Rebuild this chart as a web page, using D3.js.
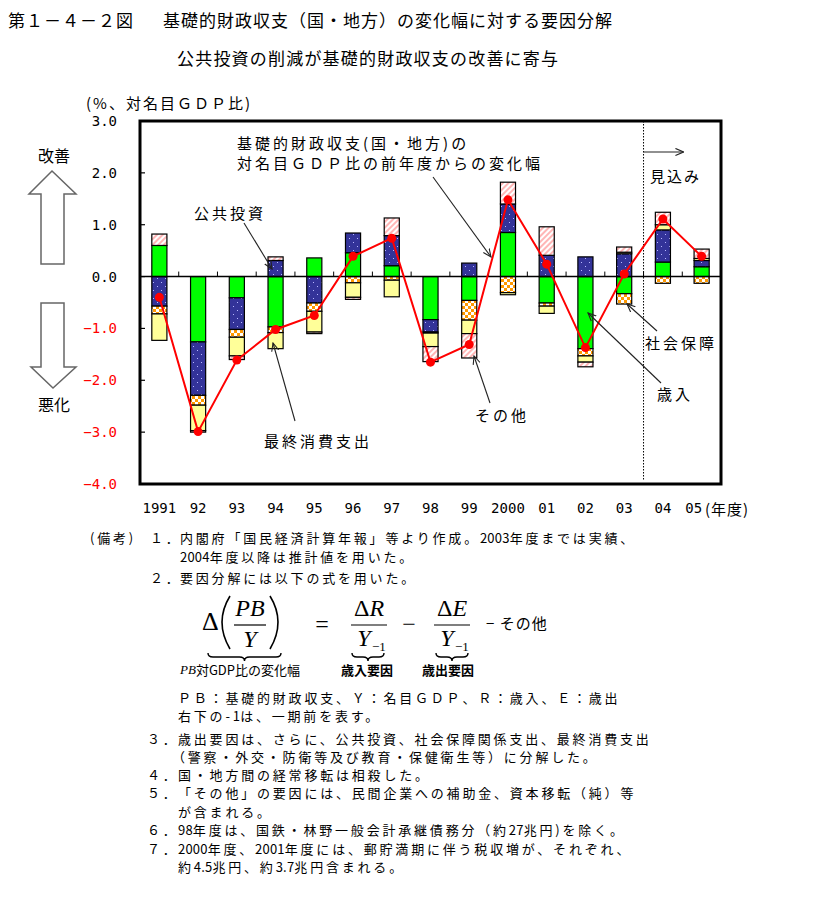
<!DOCTYPE html>
<html><head><meta charset="utf-8">
<script src="https://cdn.jsdelivr.net/npm/d3@7"></script>
<style>
body{margin:0;background:#fff}
svg{display:block}
text{font-family:"Noto Sans CJK JP","Noto Sans",sans-serif;fill:#000}
</style>
</head><body>
<svg id="c" width="814" height="916"></svg>
<script>
// ---- data ----
const years = ["1991","92","93","94","95","96","97","98","99","2000","01","02","03","04","05"];
const revenue     = [0.60,-1.26,-0.41,-0.97, 0.36, 0.46, 0.21,-0.83,-0.46, 0.85,-0.51,-1.39,-0.33, 0.28, 0.19];
const publicInv   = [-0.57,-1.03,-0.61, 0.31,-0.51, 0.38, 0.58,-0.24, 0.26, 0.55, 0.41, 0.38, 0.44, 0.62, 0.12];
const socialSec   = [-0.15,-0.19,-0.15,-0.11,-0.16,-0.12,-0.07,-0.02,-0.38,-0.31,-0.06,-0.14,-0.20,-0.13,-0.13];
const consumption = [-0.51,-0.49,-0.36,-0.31,-0.40,-0.28,-0.32,-0.26,-0.26,-0.04,-0.14,-0.12, 0.03, 0.10, 0.04];
const other       = [0.22,-0.03,-0.07, 0.07,-0.03,-0.04, 0.34,-0.29,-0.47, 0.42, 0.55,-0.09, 0.10, 0.24, 0.18];
const total       = [-0.40,-2.99,-1.61,-1.02,-0.75, 0.39, 0.74,-1.65,-1.31, 1.48, 0.24,-1.37, 0.05, 1.11, 0.39];
const yTicks = [3,2,1,0,-1,-2,-3,-4];
const seriesKeys = ["歳入","公共投資","社会保障","最終消費支出","その他"];
const seriesArrays = [revenue, publicInv, socialSec, consumption, other];
const forecastFrom = "04";

const svg = d3.select("#c");
const defs = svg.append("defs");

// patterns
const pDot = defs.append("pattern").attr("id","pDot").attr("patternUnits","userSpaceOnUse").attr("width",8).attr("height",8);
pDot.append("rect").attr("width",8).attr("height",8).attr("fill","#333399");
pDot.append("rect").attr("x",1).attr("y",2).attr("width",1).attr("height",1).attr("fill","#b8b8ff");
pDot.append("rect").attr("x",5).attr("y",6).attr("width",1).attr("height",1).attr("fill","#b8b8ff");
const pChk = defs.append("pattern").attr("id","pChk").attr("patternUnits","userSpaceOnUse").attr("width",6).attr("height",6);
pChk.append("rect").attr("width",6).attr("height",6).attr("fill","#fff");
pChk.append("rect").attr("width",3).attr("height",3).attr("fill","#ff9900");
pChk.append("rect").attr("x",3).attr("y",3).attr("width",3).attr("height",3).attr("fill","#ff9900");
const pHat = defs.append("pattern").attr("id","pHat").attr("patternUnits","userSpaceOnUse").attr("width",4).attr("height",4).attr("patternTransform","rotate(45)");
pHat.append("rect").attr("width",4).attr("height",4).attr("fill","#fff");
pHat.append("line").attr("x1",1).attr("y1",0).attr("x2",1).attr("y2",4).attr("stroke","#ff8f8f").attr("stroke-width",1.3);

const fills = {"歳入":"#00ff00","公共投資":"url(#pDot)","社会保障":"url(#pChk)","最終消費支出":"#ffff99","その他":"url(#pHat)"};

defs.append("marker").attr("id","arr").attr("viewBox","0 0 10 10").attr("refX",9).attr("refY",5)
  .attr("markerWidth",9).attr("markerHeight",9).attr("markerUnits","userSpaceOnUse").attr("orient","auto")
  .append("path").attr("d","M0,1 L9,5 L0,9").attr("fill","none").attr("stroke","#222").attr("stroke-width",1.2);

// ---- scales ----
const L=140, R=721, T=121, B=484;
const x = d3.scaleBand().domain(years).range([L,R]).paddingInner(0.61).paddingOuter(0.305);
const y = d3.scaleLinear().domain([-4,3]).range([B,T]);
const bw = x.bandwidth(), step = x.step();

const rows = years.map((yr,i)=>{const o={year:yr}; seriesKeys.forEach((k,j)=>o[k]=seriesArrays[j][i]); return o;});
const stacked = d3.stack().keys(seriesKeys).offset(d3.stackOffsetDiverging)(rows);

// titles
svg.append("text").attr("x",8).attr("y",19).attr("dominant-baseline","central").style("font-size","17px").style("letter-spacing","1px").text("第１－４－２図");
svg.append("text").attr("x",163).attr("y",19).attr("dominant-baseline","central").style("font-size","17px").style("letter-spacing","1px").text("基礎的財政収支（国・地方）の変化幅に対する要因分解");
svg.append("text").attr("x",177).attr("y",57).attr("dominant-baseline","central").style("font-size","17px").style("letter-spacing","1.2px").text("公共投資の削減が基礎的財政収支の改善に寄与");

// axis title
svg.append("text").attr("x",86).attr("y",102).attr("dominant-baseline","central").style("font-size","15px").style("letter-spacing","2px").text("(%、対名目ＧＤＰ比)");

// bars
const g = svg.append("g");
stacked.forEach(s=>{
  g.selectAll(null).data(s).join("rect")
    .attr("x",d=>x(d.data.year))
    .attr("width",bw)
    .attr("y",d=>y(Math.max(d[0],d[1])))
    .attr("height",d=>Math.abs(y(d[0])-y(d[1])))
    .attr("fill",fills[s.key])
    .attr("stroke","#000").attr("stroke-width",1.2);
});

// zero line and x ticks
svg.append("line").attr("x1",L).attr("x2",R).attr("y1",y(0)).attr("y2",y(0)).attr("stroke","#000").attr("stroke-width",1.5);
svg.append("g").selectAll("line").data(years.slice(1)).join("line")
  .attr("x1",d=>x(d)-(step-bw)/2).attr("x2",d=>x(d)-(step-bw)/2)
  .attr("y1",y(0)).attr("y2",y(0)-5).attr("stroke","#000").attr("stroke-width",1);

// forecast divider
const xf = x(forecastFrom)-(step-bw)/2;
svg.append("line").attr("x1",xf).attr("x2",xf).attr("y1",T).attr("y2",B-4).attr("stroke","#000").attr("stroke-width",1).attr("stroke-dasharray","1.5,1.5");
svg.append("line").attr("x1",xf).attr("x2",xf+40).attr("y1",152).attr("y2",152).attr("stroke","#222").attr("stroke-width",1.2).attr("marker-end","url(#arr)");
svg.append("text").attr("x",650).attr("y",175).attr("dominant-baseline","central").style("font-size","15px").style("letter-spacing","2px").text("見込み");

// total line
const line = d3.line().x((d,i)=>x(years[i])+bw/2).y(d=>y(d));
svg.append("path").attr("d",line(total)).attr("fill","none").attr("stroke","#ff0000").attr("stroke-width",2);
svg.append("g").selectAll("circle").data(total).join("circle")
  .attr("cx",(d,i)=>x(years[i])+bw/2).attr("cy",d=>y(d)).attr("r",4.5).attr("fill","#ff0000");

// frame
svg.append("rect").attr("x",L).attr("y",T).attr("width",R-L).attr("height",B-T).attr("fill","none").attr("stroke","#000").attr("stroke-width",3);

// y axis ticks & labels
svg.append("g").selectAll("line").data(yTicks).join("line")
  .attr("x1",L).attr("x2",L+5).attr("y1",d=>y(d)).attr("y2",d=>y(d)).attr("stroke","#000").attr("stroke-width",1.2);
svg.append("g").selectAll("text").data(yTicks).join("text")
  .attr("x",117).attr("y",d=>y(d)).attr("text-anchor","end").attr("dominant-baseline","central")
  .style("font-family","'DejaVu Sans Mono',monospace").style("font-size","14px")
  .style("fill",d=>d<0?"#ff0000":"#000").text(d=>d3.format(".1f")(d));

// x labels
const last = years[years.length-1];
svg.append("g").selectAll("text").data(years).join("text")
  .attr("x",d=>d===last ? x(d)+bw/2-8 : x(d)+bw/2).attr("y",508).attr("text-anchor","middle").attr("dominant-baseline","central")
  .style("font-family","'DejaVu Sans Mono',monospace").style("font-size","14px").text(d=>d);
svg.append("text").attr("x",705).attr("y",508).attr("dominant-baseline","central").style("font-size","15px").style("letter-spacing","1px").text("(年度)");

// left arrows
svg.append("text").attr("x",54).attr("y",155).attr("text-anchor","middle").attr("dominant-baseline","central").style("font-size","16px").text("改善");
svg.append("path").attr("d","M52,171 L76,194 L64,194 L64,264 L41,264 L41,194 L29,194 Z").attr("fill","#fff").attr("stroke","#666").attr("stroke-width",1.5);
svg.append("path").attr("d","M41,303 L64,303 L64,367 L76,367 L53,388 L31,367 L41,367 Z").attr("fill","#fff").attr("stroke","#666").attr("stroke-width",1.5);
svg.append("text").attr("x",54).attr("y",404).attr("text-anchor","middle").attr("dominant-baseline","central").style("font-size","16px").text("悪化");

// annotations
const ann = [
  {t:"基礎的財政収支(国・地方)の", x:237, y:142},
  {t:"対名目ＧＤＰ比の前年度からの変化幅", x:237, y:162},
  {t:"公共投資", x:194, y:212},
  {t:"最終消費支出", x:264, y:440},
  {t:"その他", x:475, y:414},
  {t:"社会保障", x:645, y:342},
  {t:"歳入", x:657, y:393}
];
svg.append("g").selectAll("text").data(ann).join("text").attr("x",d=>d.x).attr("y",d=>d.y)
  .attr("dominant-baseline","central").style("font-size","15px").style("letter-spacing","3px").text(d=>d.t);
const arrows = [[433,177,491,257],[244,223,272,269],[295,421,273,343],[490,403,474,356],[657,331,627,304],[661,383,588,313]];
svg.append("g").selectAll("line").data(arrows).join("line")
  .attr("x1",d=>d[0]).attr("y1",d=>d[1]).attr("x2",d=>d[2]).attr("y2",d=>d[3])
  .attr("stroke","#222").attr("stroke-width",1.1).attr("marker-end","url(#arr)");

// notes
const notes = svg.append("g").style("font-size","13px").style("letter-spacing","2.8px");
const nt = (x0,y0,t)=>{
  const el = notes.append("text").attr("x",x0).attr("y",y0).attr("dominant-baseline","central");
  t.split(/([0-9][0-9.]*)/).forEach(part=>{
    if(!part) return;
    const ts = el.append("tspan").text(part);
    if(/^[0-9]/.test(part)) ts.style("letter-spacing","0.2px");
  });
};
nt(90,537,"(備考)");
nt(150,537,"１．"); nt(180,537,"内閣府「国民経済計算年報」等より作成。2003年度までは実績、");
nt(180,556,"2004年度以降は推計値を用いた。");
nt(150,577,"２．"); nt(180,577,"要因分解には以下の式を用いた。");
nt(178,697,"ＰＢ：基礎的財政収支、Ｙ：名目ＧＤＰ、Ｒ：歳入、Ｅ：歳出");
nt(178,715,"右下の-1は、一期前を表す。");
nt(147,738,"３．"); nt(178,738,"歳出要因は、さらに、公共投資、社会保障関係支出、最終消費支出");
nt(172,756,"（警察・外交・防衛等及び教育・保健衛生等）に分解した。");
nt(147,774,"４．"); nt(178,774,"国・地方間の経常移転は相殺した。");
nt(147,792,"５．"); nt(178,792,"「その他」の要因には、民間企業への補助金、資本移転（純）等");
nt(178,811,"が含まれる。");
nt(147,829,"６．"); nt(178,829,"98年度は、国鉄・林野一般会計承継債務分（約27兆円)を除く。");
nt(147,848,"７．"); nt(178,848,"2000年度、2001年度には、郵貯満期に伴う税収増が、それぞれ、");
nt(178,866,"約4.5兆円、約3.7兆円含まれる。");

// formula
const f = svg.append("g");
const serif = "'Liberation Serif','DejaVu Serif',serif";
f.append("text").attr("x",202).attr("y",630).style("font-family",serif).style("font-size","26px").text("Δ");
f.append("path").attr("d","M230,596 Q214,622 230,649").attr("fill","none").attr("stroke","#000").attr("stroke-width",1.6);
f.append("path").attr("d","M270,596 Q286,622 270,649").attr("fill","none").attr("stroke","#000").attr("stroke-width",1.6);
f.append("text").attr("x",250).attr("y",616).attr("text-anchor","middle").style("font-family",serif).style("font-style","italic").style("font-size","24px").text("PB");
f.append("line").attr("x1",234).attr("x2",266).attr("y1",625).attr("y2",625).attr("stroke","#000").attr("stroke-width",1.2);
f.append("text").attr("x",250).attr("y",647).attr("text-anchor","middle").style("font-family",serif).style("font-style","italic").style("font-size","24px").text("Y");
f.append("text").attr("x",322).attr("y",632).attr("text-anchor","middle").style("font-family",serif).style("font-size","24px").text("=");
function frac(cx, letter){
  const t = f.append("text").attr("x",cx).attr("y",616).attr("text-anchor","middle").style("font-family",serif).style("font-size","24px");
  t.append("tspan").text("Δ"); t.append("tspan").style("font-style","italic").text(letter);
  f.append("line").attr("x1",cx-18).attr("x2",cx+18).attr("y1",625).attr("y2",625).attr("stroke","#000").attr("stroke-width",1.2);
  f.append("text").attr("x",cx-5).attr("y",646).attr("text-anchor","middle").style("font-family",serif).style("font-style","italic").style("font-size","24px").text("Y");
  f.append("text").attr("x",cx+3).attr("y",651).style("font-family",serif).style("font-size","13px").text("−1");
}
frac(369,"R"); frac(452,"E");
f.append("text").attr("x",409).attr("y",632).attr("text-anchor","middle").style("font-family",serif).style("font-size","24px").text("−");
f.append("text").attr("x",486).attr("y",622).attr("dominant-baseline","central").style("font-size","15px").style("letter-spacing","1px").text("− その他");
function brace(x1,x2,y0){
  const m=(x1+x2)/2;
  return `M${x1},${y0} Q${x1},${y0+4} ${x1+5},${y0+4} L${m-5},${y0+4} Q${m},${y0+4} ${m},${y0+8} Q${m},${y0+4} ${m+5},${y0+4} L${x2-5},${y0+4} Q${x2},${y0+4} ${x2},${y0}`;
}
[[208,281],[352,384],[436,468]].forEach(b=>f.append("path").attr("d",brace(b[0],b[1],653)).attr("fill","none").attr("stroke","#000").attr("stroke-width",1.4));
const lb = f.append("text").attr("x",240).attr("y",669).attr("text-anchor","middle").attr("dominant-baseline","central").style("font-size","13px");
lb.append("tspan").style("font-family",serif).style("font-style","italic").text("PB");
lb.append("tspan").text("対GDP比の変化幅");
f.append("text").attr("x",367).attr("y",669).attr("text-anchor","middle").attr("dominant-baseline","central").style("font-size","13px").style("font-weight","bold").text("歳入要因");
f.append("text").attr("x",448).attr("y",669).attr("text-anchor","middle").attr("dominant-baseline","central").style("font-size","13px").style("font-weight","bold").text("歳出要因");
</script>
</body></html>
